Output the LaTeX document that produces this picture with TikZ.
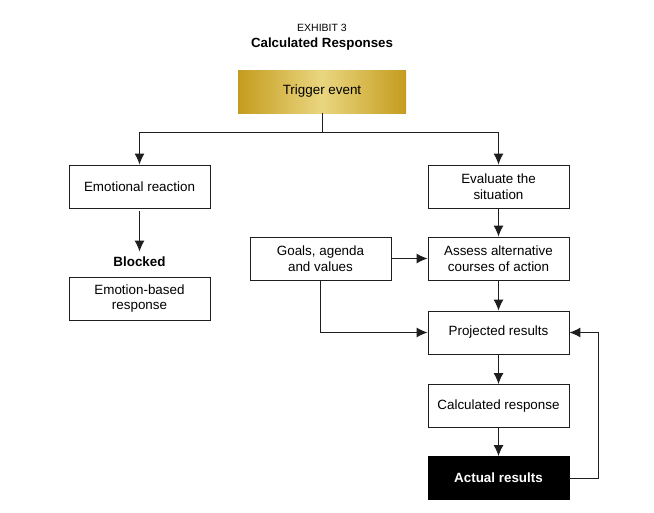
\documentclass[tikz,border=0pt]{standalone}
\usepackage{fontspec}
\setmainfont{Liberation Sans}
\usetikzlibrary{arrows.meta}
\definecolor{golddark}{RGB}{196,156,30}
\definecolor{goldlight}{RGB}{234,214,128}
\definecolor{boxline}{RGB}{30,30,30}
\tikzset{
  box/.style={draw=boxline, line width=0.9pt, minimum width=141pt, minimum height=43pt,
    align=center, inner sep=2pt, font=\fontsize{13.4}{15.5}\selectfont, fill=white},
  conn/.style={line width=1pt, draw=boxline, -{Latex[length=11pt,width=10pt]}},
  plain/.style={line width=1pt, draw=boxline}
}
\begin{document}
\begin{tikzpicture}[x=1pt,y=1pt]
\useasboundingbox (0,0) rectangle (654,-512);
\fill[white] (0,0) rectangle (654,-512);
\node[font=\fontsize{10.5}{12}\selectfont] (ex) at (322,-28) {EXHIBIT 3};
\node[font=\bfseries\fontsize{13.3}{15}\selectfont] (ttl) at (322,-44) {Calculated Responses};

\node[box, draw=none, minimum width=168pt, left color=golddark, right color=golddark, middle color=goldlight] (trig) at (322,-91.5) {Trigger event};
\node[box] (emo) at (139.5,-186.5) {Emotional reaction};
\node[font=\bfseries\fontsize{13.4}{15.5}\selectfont] (blk) at (139.5,-262) {Blocked};
\node[box] (emob) at (139.5,-298.5) {Emotion-based\\response};
\node[box] (eval) at (498.5,-186.5) {Evaluate the\\situation};
\node[box] (goals) at (320.5,-258.5) {Goals, agenda\\and values};
\node[box] (assess) at (498.5,-258.5) {Assess alternative\\courses of action};
\node[box] (proj) at (498.5,-332.5) {Projected results};
\node[box] (calc) at (498.5,-406) {Calculated response};
\node[box, fill=black, draw=black, text=white, font=\bfseries\fontsize{13.4}{15.5}\selectfont] (act) at (498.5,-478) {Actual results};

\coordinate (br) at (322,-132);
\draw[plain] (trig.south) -- (br);
\draw[conn] (br) -| (emo.north);
\draw[conn] (br) -| (eval.north);
\draw[conn, shorten <=3pt, shorten >=2pt] (emo.south) -- (blk.north);
\draw[conn] (eval.south) -- (assess.north);
\draw[conn] (goals.east) -- (assess.west);
\draw[conn] (goals.south) |- (proj.west);
\draw[conn] (assess.south) -- (proj.north);
\draw[conn] (proj.south) -- (calc.north);
\draw[conn] (calc.south) -- (act.north);
\coordinate (fb) at (598,-478);
\draw[conn] (act.east) -- (fb) |- (proj.east);
\end{tikzpicture}
\end{document}
